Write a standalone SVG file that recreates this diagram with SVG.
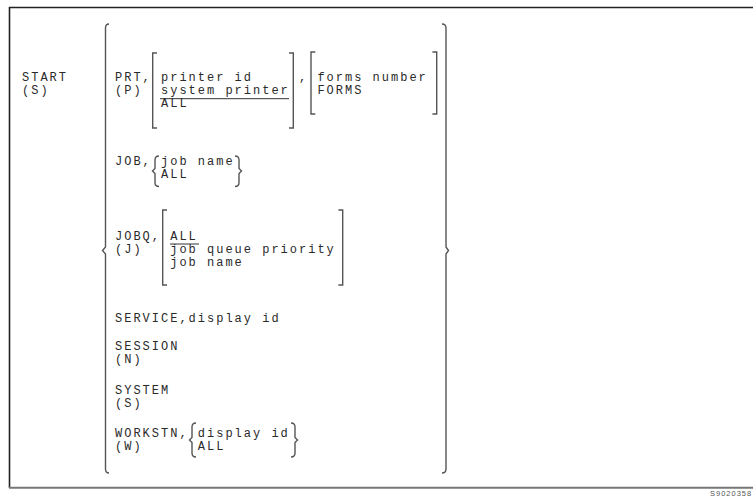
<svg xmlns="http://www.w3.org/2000/svg" width="753" height="496" viewBox="0 0 753 496">
  <style>
    .t { font-family: "Liberation Mono", "DejaVu Sans Mono", monospace; font-size: 12px; letter-spacing: 2px; fill: #2a2a2a; }
    .br { fill: none; stroke: #555; stroke-width: 1.4; }
    .ul { stroke: #333; stroke-width: 1; }
    .frame { fill: none; stroke: #222; stroke-width: 1.6; }
    .tag { font-family: "Liberation Sans", Arial, sans-serif; font-size: 7.5px; letter-spacing: 1px; fill: #555; }
  </style>

  <!-- outer frame: top and left dark, bottom rule grey -->
  <g id="frame">
    <line class="frame" x1="9" y1="7.5" x2="753" y2="7.5"/>
    <line class="frame" x1="9.5" y1="7" x2="9.5" y2="488"/>
    <line x1="9" y1="487.8" x2="753" y2="487.8" stroke="#777" stroke-width="2"/>
  </g>

  <!-- command name -->
  <g id="start">
    <text class="t" x="22" y="81">START</text>
    <text class="t" x="22" y="94">(S)</text>
  </g>

  <!-- large braces enclosing the operand choices -->
  <g id="operand-braces">
    <path class="br" d="M109 24 Q105.5 24 105.5 28 L105.5 247 L102.5 250.5 L105.5 254 L105.5 469 Q105.5 473 109 473"/>
    <path class="br" d="M442 24 Q446 24 446 28 L446 247 L448.5 250.5 L446 254 L446 469 Q446 473 442 473"/>
  </g>

  <!-- PRT operand -->
  <g id="prt">
    <text class="t" x="115" y="81">PRT,</text>
    <text class="t" x="115" y="94">(P)</text>
    <path class="br" d="M157 53 L152.7 53 L152.7 128 L157 128"/>
    <text class="t" x="161" y="81">printer id</text>
    <text class="t" x="161" y="94">system printer</text>
    <line class="ul" x1="160" y1="98.7" x2="289" y2="98.7"/>
    <text class="t" x="161" y="107">ALL</text>
    <path class="br" d="M289 53 L293.3 53 L293.3 128 L289 128"/>
    <text class="t" x="299" y="81">,</text>
    <path class="br" d="M315.3 52 L311 52 L311 114 L315.3 114"/>
    <text class="t" x="317.4" y="81">forms number</text>
    <text class="t" x="317.4" y="94">FORMS</text>
    <path class="br" d="M432.4 52 L436.7 52 L436.7 114 L432.4 114"/>
  </g>

  <!-- JOB operand -->
  <g id="job">
    <text class="t" x="115" y="165">JOB,</text>
    <path class="br" d="M159 156 Q155 156 155 160 L155 168.5 L152.5 171 L155 173.5 L155 182.5 Q155 186.5 159 186.5"/>
    <text class="t" x="161" y="165">job name</text>
    <text class="t" x="161" y="178">ALL</text>
    <path class="br" d="M235 156 Q239 156 239 160 L239 168.5 L241.5 171 L239 173.5 L239 182.5 Q239 186.5 235 186.5"/>
  </g>

  <!-- JOBQ operand -->
  <g id="jobq">
    <text class="t" x="115" y="240">JOBQ,</text>
    <text class="t" x="115" y="253">(J)</text>
    <path class="br" d="M167 210 L162.7 210 L162.7 285 L167 285"/>
    <text class="t" x="170.2" y="240">ALL</text>
    <line class="ul" x1="170" y1="244" x2="199" y2="244"/>
    <text class="t" x="170.2" y="253">job queue priority</text>
    <text class="t" x="170.2" y="266">job name</text>
    <path class="br" d="M338.4 210 L342.7 210 L342.7 285 L338.4 285"/>
  </g>

  <!-- SERVICE operand -->
  <g id="service">
    <text class="t" x="115" y="322">SERVICE,display id</text>
  </g>

  <!-- SESSION operand -->
  <g id="session">
    <text class="t" x="115" y="350">SESSION</text>
    <text class="t" x="115" y="363">(N)</text>
  </g>

  <!-- SYSTEM operand -->
  <g id="system">
    <text class="t" x="115" y="394">SYSTEM</text>
    <text class="t" x="115" y="407">(S)</text>
  </g>

  <!-- WORKSTN operand -->
  <g id="workstn">
    <text class="t" x="115" y="437">WORKSTN,</text>
    <text class="t" x="115" y="450">(W)</text>
    <path class="br" d="M196 423 Q192 423 192 427 L192 437.5 L189.5 440 L192 442.5 L192 453 Q192 457 196 457"/>
    <text class="t" x="197.8" y="437">display id</text>
    <text class="t" x="197.8" y="450">ALL</text>
    <path class="br" d="M291 423 Q295 423 295 427 L295 437.5 L297.5 440 L295 442.5 L295 453 Q295 457 291 457"/>
  </g>

  <text class="tag" x="710" y="495.5">S9020358</text>
</svg>
